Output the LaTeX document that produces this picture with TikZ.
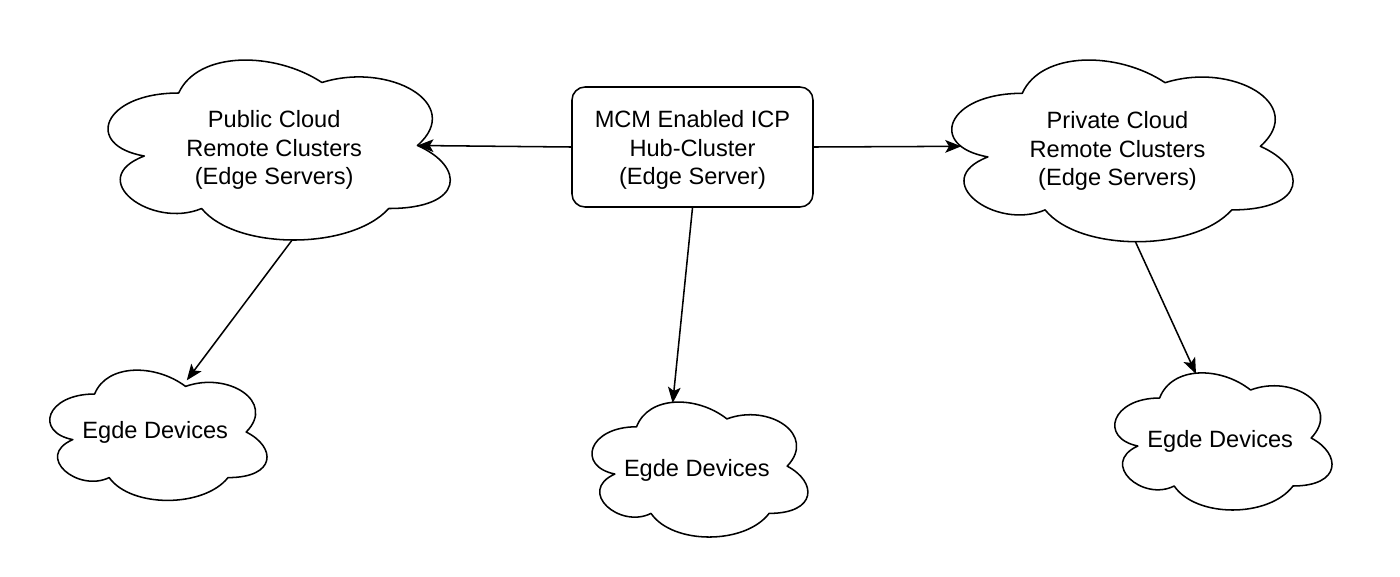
\documentclass[tikz,border=0pt]{standalone}
\usepackage{fontspec}
\setmainfont{Liberation Sans}
\usetikzlibrary{arrows.meta}
\tikzset{
  cloudline/.style={draw=black, line width=1.15pt, fill=white, line join=round},
  lbl/.style={font=\fontsize{17.7pt}{21.4pt}\selectfont, align=center, inner sep=0pt},
  hubbox/.style={draw=black, line width=1.15pt, rounded corners=9.75pt, minimum width=180.75pt, minimum height=90pt, align=center, font=\fontsize{17.7pt}{21.4pt}\selectfont, inner sep=0pt},
  conn/.style={draw=black, line width=1.15pt, -{Stealth[length=12pt, width=9.5pt, inset=2.8pt]}}
}
\newcommand{\mycloud}[7]{%
  \begin{scope}[shift={(#2,#3)}, xscale=#4, yscale=#5]
    \draw[cloudline] (0.25,0.25) .. controls (0.05,0.25) and (0,0.5) .. (0.16,0.55)
      .. controls (0,0.66) and (0.18,0.9) .. (0.31,0.8)
      .. controls (0.4,1) and (0.7,1) .. (0.8,0.8)
      .. controls (1,0.8) and (1,0.6) .. (0.875,0.5)
      .. controls (1,0.3) and (0.8,0.1) .. (0.625,0.2)
      .. controls (0.5,0.05) and (0.3,0.05) .. (0.25,0.25) -- cycle;
    \node[lbl, yshift=#7] (#1) at (0.5,0.5) {#6};
    \coordinate (#1-e) at (0.875,0.5);
    \coordinate (#1-w) at (0.09,0.5);
    \coordinate (#1-b) at (0.547,0.95);
    \coordinate (#1-t) at (0.4,0.1);
    \coordinate (#1-tr) at (0.63,0.16);
  \end{scope}}
\begin{document}
\begin{tikzpicture}[x=0.75pt, y=-0.75pt]
  \useasboundingbox[fill=white] (0,0) rectangle (1400,576);
  \mycloud{pub}{83.2}{40.5}{382}{210}{Public Cloud\\Remote Clusters\\(Edge Servers)}{-3.5pt}
  \mycloud{priv}{927}{40.3}{381}{212}{Private Cloud\\Remote Clusters\\(Edge Servers)}{-3.5pt}
  \mycloud{devl}{34}{356}{242.5}{152}{Egde Devices}{0pt}
  \mycloud{devm}{576.3}{387.4}{241}{157.5}{Egde Devices}{-3pt}
  \mycloud{devr}{1099}{358}{242.5}{160}{Egde Devices}{-2.5pt}
  \node[hubbox] (hub) at (692.5,147) {};
  \node[lbl, yshift=-2.5pt] (hubtext) at (hub.center) {MCM Enabled ICP\\Hub-Cluster\\(Edge Server)};
  \draw[conn] (hub.west) -- (pub-e);
  \draw[conn] (hub.east) -- (priv-w);
  \draw[conn] (hub.south) -- (devm-t);
  \draw[conn] (pub-b) -- (devl-tr);
  \draw[conn] (priv-b) -- (devr-t);
\end{tikzpicture}
\end{document}
